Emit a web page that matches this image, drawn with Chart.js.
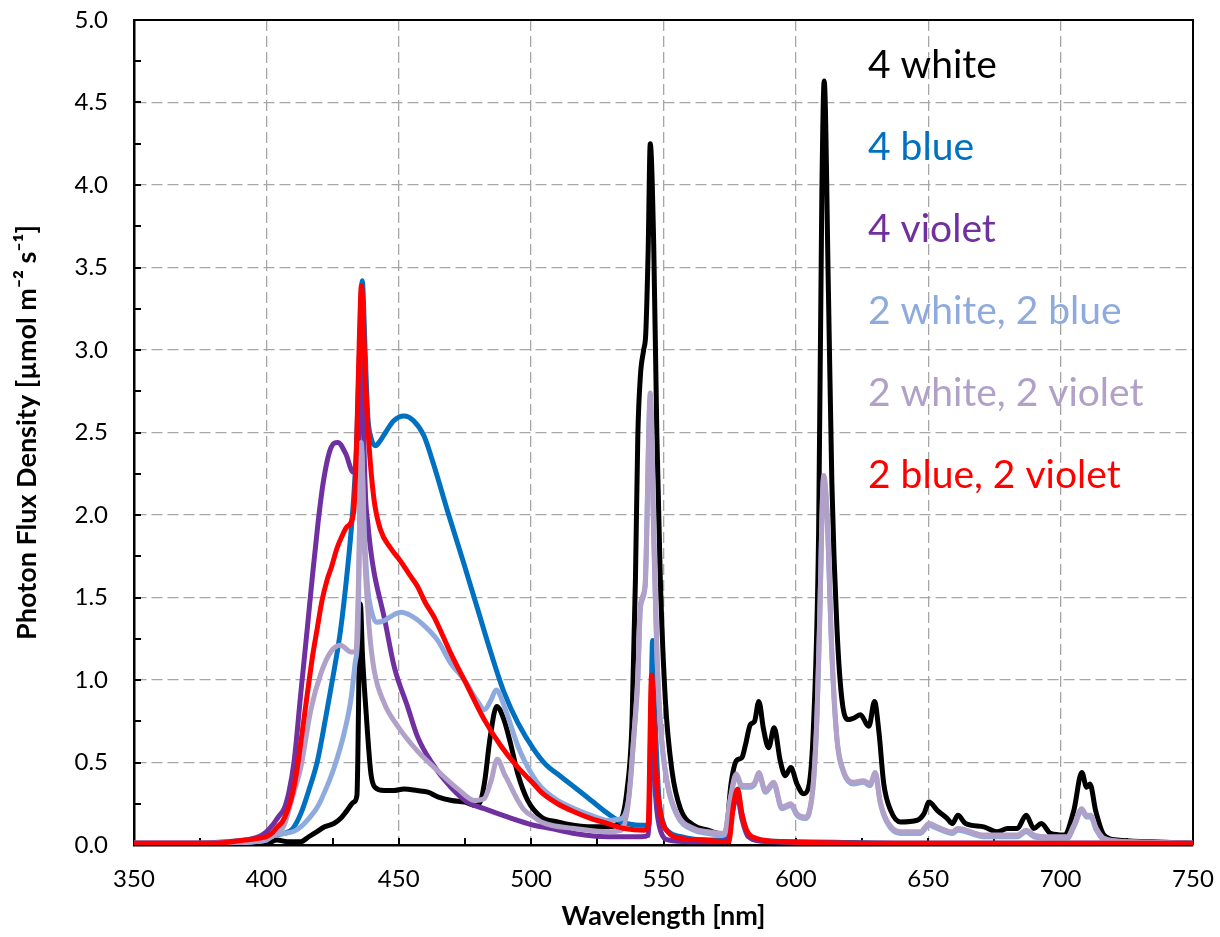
<!DOCTYPE html>
<html>
<head>
<meta charset="utf-8">
<script src="https://cdn.jsdelivr.net/npm/chart.js@4.4.0/dist/chart.umd.min.js"></script>
<style>
  html, body { margin: 0; padding: 0; background: #fff; }
</style>
</head>
<body>
<canvas id="grafica" width="1220" height="937"></canvas>
<script>
// valores (nm, umol m-2 s-1)
const white4Nm  = [350,380,395,400,404,408,413,416,419,422,425.5,428,430.5,433,434.2,435.5,436.3,437.6,439.5,441,444.5,448,452,457,461,465,470,475,479,481,482.5,484.5,487,489.5,492,495,498.7,503.8,510,516,523,529,533.5,536.2,538.1,539.4,540.3,541.3,542.5,543.3,544.2,545,546.3,547.5,548.8,550.7,553.2,556.4,561.4,566.8,571.5,573.5,575.5,577.5,579.6,581,582.8,584.4,586,587.8,589.7,591.8,594.1,596,598.1,600.4,602.9,604.8,606.7,608.6,609.8,610.7,612.3,613.6,615.5,617.4,619.9,622,624.4,626.8,627.6,629.7,631.4,633.2,635.8,639.5,645.8,648.4,650.3,653.4,657.2,659.1,661.2,664.1,671,676,680,683.6,687,689.9,692.7,696.2,701.3,705,708,709.8,711.1,713.2,716.4,721.4,734,750];
const white4Val = [0.01,0.01,0.01,0.01,0.03,0.02,0.02,0.05,0.08,0.11,0.13,0.16,0.21,0.26,0.30,1.46,1.15,0.82,0.43,0.35,0.33,0.33,0.34,0.33,0.32,0.29,0.27,0.26,0.24,0.27,0.39,0.65,0.84,0.77,0.63,0.43,0.27,0.17,0.14,0.12,0.11,0.11,0.14,0.33,0.74,1.61,2.48,2.85,3.0,3.1,3.6,4.25,3.64,2.48,1.61,0.88,0.45,0.22,0.12,0.09,0.07,0.07,0.37,0.51,0.53,0.61,0.73,0.75,0.87,0.70,0.59,0.71,0.51,0.42,0.47,0.37,0.31,0.35,0.74,1.90,3.93,4.63,3.35,2.19,1.32,0.88,0.76,0.77,0.79,0.73,0.72,0.87,0.68,0.37,0.21,0.14,0.15,0.19,0.26,0.21,0.16,0.13,0.18,0.13,0.11,0.08,0.10,0.10,0.18,0.10,0.13,0.07,0.06,0.21,0.44,0.35,0.37,0.21,0.06,0.03,0.02,0.01];

const blue4Nm  = [350,380,395,400,403,406.7,410,413,416,419.3,422.5,425.6,428,430.5,432.5,434,435.2,436.2,437.3,438.3,439.5,441.2,443,445,448,452,455.7,459.5,463.3,468.3,474.7,479.8,484.9,489.9,495,501,506,510,516.4,522.7,529,534,541.6,544.5,545.9,546.9,548.2,550,552,556.7,566.8,573,576,577.8,579.6,581.4,585,600,650,750];
const blue4Val = [0.01,0.01,0.02,0.03,0.06,0.07,0.10,0.19,0.33,0.51,0.78,1.06,1.30,1.65,2.00,2.40,3.00,3.42,3.00,2.60,2.47,2.42,2.45,2.50,2.57,2.60,2.57,2.48,2.30,2.03,1.70,1.43,1.16,0.92,0.74,0.58,0.48,0.43,0.35,0.27,0.19,0.14,0.12,0.12,1.24,0.74,0.30,0.13,0.08,0.05,0.03,0.03,0.20,0.33,0.19,0.08,0.03,0.02,0.01,0.01];

const violet4Nm  = [350,370,385,392,397,400,402.8,404.5,406.7,408.5,410.5,413,415.5,417.4,419.5,421.5,424.2,427,430,432.8,434.5,435.3,435.9,436.6,437.5,438.3,439.3,440.7,444.5,448.3,453.3,457,462,469.7,476,482.3,491,501,507.6,516.4,529,541.6,544.3,545.5,547,549,552,560,573,576,577.8,579.6,582,590,650,750];
const violet4Val = [0.01,0.01,0.02,0.03,0.05,0.08,0.13,0.17,0.22,0.32,0.51,0.92,1.32,1.63,1.95,2.20,2.40,2.44,2.37,2.26,2.28,2.90,3.30,2.60,2.10,1.95,1.80,1.65,1.38,1.08,0.84,0.66,0.51,0.35,0.26,0.22,0.17,0.12,0.10,0.07,0.05,0.05,0.06,0.85,0.30,0.08,0.03,0.02,0.02,0.20,0.30,0.16,0.05,0.02,0.01,0.01];

const w2b2Nm  = [350,380,395,400,403,406.7,410,413,416,419.3,422.5,425.6,429.4,431.9,433.5,434.6,435.8,437,438.3,439.5,441.5,444.5,447.5,450.8,454.6,459.6,464.7,469.7,474.8,479.8,482.4,484.9,486.8,489.9,491.2,495,497.5,501,503.8,510,516.4,522.7,529,534,537,539,540.3,541.3,543,545,546.3,547.5,548.8,551.3,555.1,561.4,566.8,573,575.2,577.5,579.6,582.8,584.5,586,588.5,591.6,594.7,598.1,600.4,603.5,605,606.7,608,608.9,610.5,611.7,613.6,615.5,618,621.8,625.6,628,630,631.8,634.3,639.4,647,650.3,653.4,659.1,661.2,671,683.6,687,690,696.2,702.5,705,708,709.8,711.3,713.5,716.4,725,750];
const w2b2Val = [0.01,0.01,0.02,0.03,0.06,0.07,0.08,0.11,0.16,0.23,0.34,0.47,0.68,0.88,1.10,1.30,2.44,1.90,1.55,1.43,1.35,1.36,1.39,1.41,1.39,1.33,1.24,1.10,1.00,0.87,0.82,0.88,0.94,0.84,0.78,0.60,0.51,0.41,0.35,0.27,0.22,0.18,0.15,0.16,0.30,0.70,1.00,1.44,1.56,2.70,1.88,1.16,0.73,0.38,0.18,0.09,0.07,0.06,0.27,0.42,0.35,0.35,0.37,0.43,0.32,0.37,0.22,0.24,0.18,0.16,0.19,0.39,0.79,1.30,2.22,2.02,1.15,0.64,0.44,0.37,0.38,0.36,0.43,0.26,0.14,0.07,0.07,0.12,0.10,0.07,0.09,0.05,0.05,0.08,0.05,0.04,0.04,0.11,0.21,0.17,0.17,0.09,0.03,0.02,0.01];

const w2v2Nm  = [350,380,395,400,403,406.7,410,413,416.8,420.6,424.3,428,432,433.8,434.8,435.9,437,438.8,440.7,444.5,449.6,457,464.7,472.3,478.6,482.2,484.9,487.2,489.9,491.2,495,497.5,501,503.8,507.6,516.4,529,534,536.5,538.5,540.3,541.3,543.1,545,546.3,547.5,548.8,551.3,555.1,561.4,566.8,573,575.2,577.5,579.6,582.8,584.5,586,588.5,591.6,594.7,598.1,600.4,603.5,605,606.7,608,608.9,610.5,611.7,613.6,615.5,618,621.8,625.6,628,630,631.8,634.3,639.4,647,650.3,653.4,659.1,661.2,671,683.6,687,690,696.2,702.5,705,708,709.8,711.3,713.5,716.4,725,750];
const w2v2Val = [0.01,0.01,0.02,0.04,0.06,0.12,0.30,0.47,0.82,1.04,1.17,1.21,1.17,1.17,1.60,2.40,1.80,1.32,1.06,0.86,0.72,0.57,0.45,0.34,0.27,0.28,0.39,0.52,0.43,0.39,0.27,0.21,0.17,0.14,0.12,0.10,0.08,0.09,0.23,0.60,1.03,1.46,1.58,2.74,1.90,1.17,0.74,0.39,0.19,0.10,0.08,0.07,0.28,0.43,0.36,0.36,0.38,0.44,0.33,0.38,0.23,0.25,0.19,0.17,0.20,0.40,0.80,1.32,2.24,2.04,1.17,0.65,0.45,0.38,0.39,0.37,0.44,0.27,0.15,0.08,0.08,0.13,0.11,0.08,0.10,0.06,0.06,0.09,0.06,0.05,0.05,0.12,0.22,0.18,0.18,0.10,0.04,0.02,0.01];

const b2v2Nm  = [350,380,392,397,400,402,404.2,406,408,410,411.7,413.5,415.5,417.5,419.3,421,423,424.5,426.7,428.5,430.5,433,434.2,435,435.9,437.5,438.7,440.6,443.1,446.9,450.7,454,457,460,463.4,469.7,476,482.3,488.6,495,501,503.8,510,516.4,522.7,529,535.3,542.8,544.2,545.5,547.2,549.1,551.6,556.7,565,574.6,576.5,578,579.6,581.4,585,595,650,750];
const b2v2Val = [0.01,0.01,0.03,0.04,0.05,0.07,0.11,0.14,0.21,0.32,0.47,0.68,0.92,1.15,1.32,1.48,1.61,1.68,1.80,1.87,1.93,2.02,2.50,3.00,3.39,2.79,2.44,2.10,1.91,1.80,1.72,1.64,1.57,1.47,1.38,1.16,0.96,0.76,0.60,0.47,0.37,0.32,0.25,0.20,0.16,0.13,0.10,0.09,0.12,1.03,0.43,0.17,0.08,0.04,0.03,0.02,0.25,0.34,0.19,0.09,0.04,0.02,0.01,0.01];

const nombres = ["4 white", "4 blue", "4 violet", "2 white, 2 blue", "2 white, 2 violet", "2 blue, 2 violet"];
const colores = ["#000000", "#0070C0", "#7030A0", "#8FAADC", "#B1A0C7", "#FF0000"];
const ejeX = [350, 400, 450, 500, 550, 600, 650, 700, 750];
const ejeY = [0, 0.5, 1, 1.5, 2, 2.5, 3, 3.5, 4, 4.5, 5];

function puntos(nm, val) {
  return nm.map((x, i) => ({ x: x, y: val[i] }));
}

const series = [
  puntos(white4Nm, white4Val),
  puntos(blue4Nm, blue4Val),
  puntos(violet4Nm, violet4Val),
  puntos(w2b2Nm, w2b2Val),
  puntos(w2v2Nm, w2v2Val),
  puntos(b2v2Nm, b2v2Val)
];

const fuente = "Lato";

// sin relleno extra de las escalas: el area la fija layout.padding
function sinRelleno(s) {
  s.paddingTop = 0;
  s.paddingBottom = 0;
  s.paddingLeft = 0;
  s.paddingRight = 0;
}

// marco, marcas interiores y leyenda en texto
const marco = {
  id: "marco",
  beforeDatasetsDraw(chart) {
    const { ctx, chartArea: a, scales } = chart;
    ctx.save();
    ctx.strokeStyle = "#000";
    ctx.lineWidth = 2;
    ctx.beginPath();
    ctx.moveTo(a.left, a.top);
    ctx.lineTo(a.right, a.top);
    ctx.lineTo(a.right, a.bottom);
    ctx.stroke();
    for (let v = 0; v <= 5.0001; v += 0.25) {
      const y = Math.round(scales.y.getPixelForValue(v));
      ctx.beginPath();
      ctx.moveTo(a.left, y);
      ctx.lineTo(a.left + 7, y);
      ctx.stroke();
    }
    for (let v = 375; v < 750; v += 25) {
      const x = Math.round(scales.x.getPixelForValue(v));
      ctx.beginPath();
      ctx.moveTo(x, a.bottom);
      ctx.lineTo(x, a.bottom - 7);
      ctx.stroke();
    }
    ctx.font = "39px " + fuente;
    ctx.textBaseline = "middle";
    ctx.textAlign = "left";
    nombres.forEach((n, i) => {
      ctx.fillStyle = colores[i];
      ctx.fillText(n, 868, 65 + i * 82);
    });
    ctx.restore();
  }
};

const ctx = document.getElementById("grafica").getContext("2d");
const grafica = new Chart(ctx, {
  type: "line",
  data: {
    datasets: series.map((d, i) => ({
      label: nombres[i],
      data: d,
      borderColor: colores[i],
      backgroundColor: colores[i],
      borderWidth: 5,
      pointRadius: 0,
      cubicInterpolationMode: "monotone",
      order: series.length - i
    }))
  },
  options: {
    responsive: false,
    animation: false,
    devicePixelRatio: 1,
    layout: { padding: { top: 20, right: 27, left: 0, bottom: 0 } },
    plugins: { legend: { display: false }, tooltip: { enabled: false } },
    scales: {
      x: {
        type: "linear",
        min: 350,
        max: 750,
        afterBuildTicks: (s) => { s.ticks = ejeX.map((v) => ({ value: v })); },
        ticks: { padding: 20, color: "#000", maxRotation: 0, autoSkip: false, font: { family: fuente, size: 24 } },
        grid: { color: "#a6a6a6", lineWidth: 1.3, drawTicks: false },
        border: { display: true, color: "#000", width: 2.5, dash: [11, 5] },
        title: {
          display: true,
          text: "Wavelength [nm]",
          color: "#000",
          font: { family: fuente, size: 27, weight: "bold" },
          padding: { top: 0, bottom: 5 }
        },
        afterFit: (s) => { s.height = 92; sinRelleno(s); }
      },
      y: {
        type: "linear",
        min: 0,
        max: 5,
        afterBuildTicks: (s) => { s.ticks = ejeY.map((v) => ({ value: v })); },
        ticks: { padding: 26, color: "#000", font: { family: fuente, size: 24 }, callback: (v) => Number(v).toFixed(1) },
        grid: { color: "#a6a6a6", lineWidth: 1.3, drawTicks: false },
        border: { display: true, color: "#000", width: 2.5, dash: [11, 5] },
        title: {
          display: true,
          text: "Photon Flux Density [\u00b5mol m\u207b\u00b2 s\u207b\u00b9]",
          color: "#000",
          font: { family: fuente, size: 27, weight: "bold" },
          padding: { top: 11, bottom: 0 }
        },
        afterFit: (s) => { s.width = 134; sinRelleno(s); }
      }
    }
  },
  plugins: [marco]
});
</script>
</body>
</html>
